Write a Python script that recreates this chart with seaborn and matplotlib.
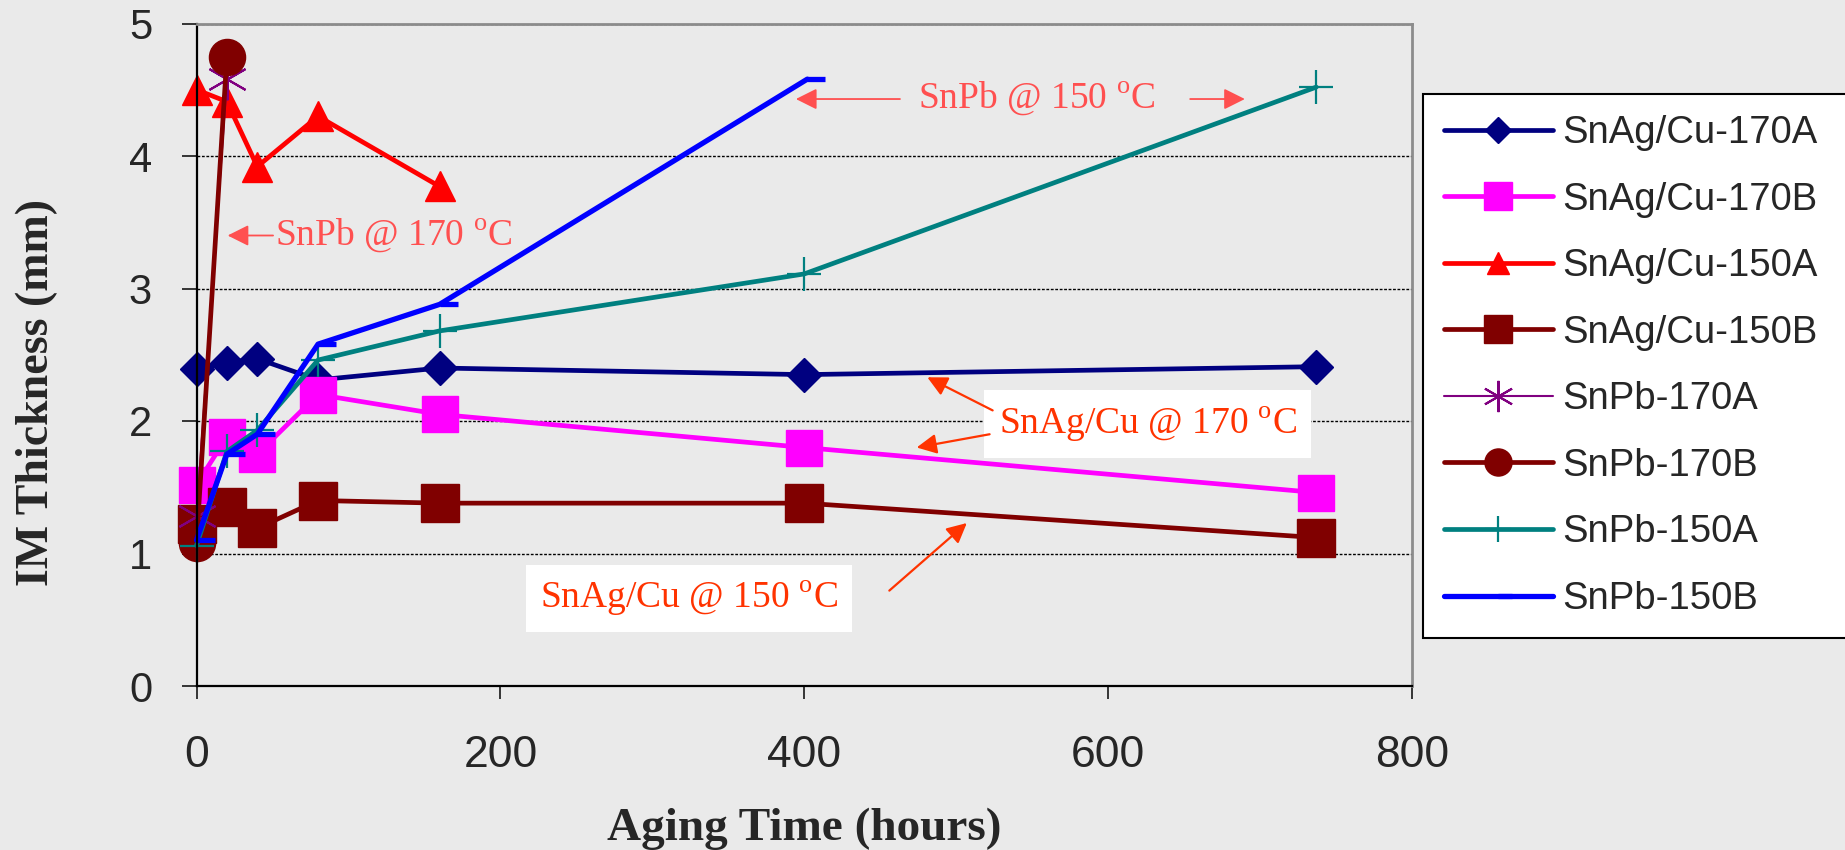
import matplotlib
matplotlib.use("Agg")
import pandas as pd
import matplotlib.pyplot as plt
import seaborn as sns

# aging times (hours)
hours_snag = [0, 20, 40, 80, 160, 400, 737]
hours_150a = [0, 20, 40, 80, 160]
hours_170 = [0, 20]
hours_150b = [0, 20, 40, 80, 160, 402]

# IM thickness readings
snag_170a = [2.39, 2.44, 2.47, 2.31, 2.40, 2.35, 2.41]
snag_170b = [1.52, 1.88, 1.75, 2.20, 2.05, 1.80, 1.46]
snag_150a = [4.50, 4.41, 3.92, 4.30, 3.77]
snag_150b = [1.22, 1.35, 1.19, 1.40, 1.38, 1.38, 1.12]
snpb_170a = [1.28, 4.58]
snpb_170b = [1.08, 4.75]
snpb_150a = [1.06, 1.77, 1.93, 2.46, 2.68, 3.11, 4.52]
snpb_150b = [1.10, 1.75, 1.90, 2.58, 2.88, 4.58]

labels = ["SnAg/Cu-170A", "SnAg/Cu-170B", "SnAg/Cu-150A", "SnAg/Cu-150B",
          "SnPb-170A", "SnPb-170B", "SnPb-150A", "SnPb-150B"]

half_dash = [(0, 0), (1, 0)]

series = [
    (hours_snag, snag_170a, dict(color="#000080", marker="D", ms=17, lw=3.4)),
    (hours_snag, snag_170b, dict(color="#FF00FF", marker="s", ms=26, lw=3.4)),
    (hours_150a, snag_150a, dict(color="#FF0000", marker="^", ms=22, lw=3.4)),
    (hours_snag, snag_150b, dict(color="#800000", marker="s", ms=27, lw=3.4)),
    (hours_170, snpb_170a, dict(color="#800080", marker=(6, 2, 0), ms=30, lw=1.5, mew=1.5)),
    (hours_170, snpb_170b, dict(color="#800000", marker="o", ms=26, lw=3.4)),
    (hours_snag, snpb_150a, dict(color="#008080", marker="+", ms=25, lw=3.4, mew=1.6)),
    (hours_150b, snpb_150b, dict(color="#0000FF", marker=half_dash, ms=26, lw=3.8, mew=3.8)),
]

sns.set_style("ticks")
plt.rcParams["font.family"] = ["Liberation Sans", "DejaVu Sans"]
plt.rcParams["mathtext.fontset"] = "custom"
plt.rcParams["mathtext.rm"] = "Liberation Serif"

bg = "#EAEAEA"
fig = plt.figure(figsize=(18.45, 8.5), dpi=100, facecolor=bg)
ax = fig.add_axes([196.5 / 1845, 1 - 686 / 850, 1215.5 / 1845, 662.5 / 850])
ax.set_facecolor(bg)

for (x, y, st), lab in zip(series, labels):
    df = pd.DataFrame({"hours": x, "thickness": y})
    sns.lineplot(data=df, x="hours", y="thickness", ax=ax, estimator=None,
                 sort=False, legend=False, label=lab,
                 color=st["color"], marker=st["marker"], markersize=st["ms"],
                 linewidth=st["lw"], markeredgecolor=st["color"],
                 markeredgewidth=st.get("mew", 1.0), clip_on=False)

ax.set_xlim(0, 800)
ax.set_ylim(0, 5)
ax.set_xticks([0, 200, 400, 600, 800])
ax.set_yticks([0, 1, 2, 3, 4, 5])
ax.yaxis.grid(True, color="black", linestyle=(0, (2, 1.2)), linewidth=1.0)
ax.xaxis.grid(False)
ax.set_axisbelow(True)
for side in ["top", "right"]:
    ax.spines[side].set_color("#8C8C8C")
    ax.spines[side].set_linewidth(2)
for side in ["left", "bottom"]:
    ax.spines[side].set_color("black")
    ax.spines[side].set_linewidth(1.6)

ax.tick_params(axis="x", direction="out", length=9, width=1.3, pad=26, labelsize=32)
ax.tick_params(axis="y", direction="out", length=11, width=1.3, pad=21, labelsize=30)

serif_bold = dict(family="Liberation Serif", weight="bold")
ax.set_xlabel("Aging Time (hours)", fontsize=34, **serif_bold)
ax.set_ylabel("IM Thickness (mm)", fontsize=33, **serif_bold)
ax.xaxis.label.set_va("center")
ax.xaxis.set_label_coords(0.5, (686 - 829) / 662.5)
ax.yaxis.label.set_va("center")
ax.yaxis.set_label_coords((37 - 196.5) / 1215.5, (686 - 393) / 662.5)

# annotations
salmon = "#FF5050"
orange = "#FF3300"
note_font = dict(family="Liberation Serif", fontsize=27)

thin_arrow = dict(arrowstyle="-|>", color=salmon, lw=1.3, mutation_scale=32,
                  shrinkA=0, shrinkB=0)
ax.annotate("", xy=(20.5, 3.40), xytext=(50.4, 3.40), arrowprops=thin_arrow)
ax.text(51.7, 3.40, r"SnPb @ 170 $^{\mathrm{o}}$C", color=salmon,
        ha="left", va="center", **note_font)

ax.annotate("", xy=(394.5, 4.43), xytext=(463, 4.43), arrowprops=thin_arrow)
ax.annotate("", xy=(690, 4.43), xytext=(654, 4.43), arrowprops=thin_arrow)
ax.text(553, 4.44, r"SnPb @ 150 $^{\mathrm{o}}$C", color=salmon,
        ha="center", va="center", **note_font)

box = dict(boxstyle="square,pad=0.38", facecolor="white", edgecolor="none")
orange_arrow = dict(arrowstyle="-|>", color=orange, lw=1.6, mutation_scale=30,
                    shrinkA=0, shrinkB=0)
ax.text(626, 1.975, r"SnAg/Cu @ 170 $^{\mathrm{o}}$C", color=orange,
        ha="center", va="center", bbox=box, **note_font)
ax.annotate("", xy=(481, 2.33), xytext=(524, 2.08), arrowprops=orange_arrow)
ax.annotate("", xy=(474, 1.80), xytext=(522, 1.90), arrowprops=orange_arrow)

ax.text(324, 0.66, r"SnAg/Cu @ 150 $^{\mathrm{o}}$C", color=orange,
        ha="center", va="center", bbox=box, **note_font)
ax.annotate("", xy=(507, 1.23), xytext=(456, 0.72), arrowprops=orange_arrow)

handles, labs = ax.get_legend_handles_labels()
leg = fig.legend(handles, labs, loc="upper left",
                 bbox_to_anchor=(1423 / 1845, 0, 0.25, 1 - 94 / 850),
                 mode="expand", frameon=True, fancybox=False,
                 edgecolor="black", facecolor="white", framealpha=1,
                 prop=dict(family="Liberation Sans", size=27.5),
                 labelspacing=0.8, handlelength=2.85, handletextpad=0.25,
                 borderpad=0.55, borderaxespad=0, markerscale=0.75)
leg.get_frame().set_linewidth(1.5)

fig.savefig("out.png", dpi=100, facecolor=bg)
